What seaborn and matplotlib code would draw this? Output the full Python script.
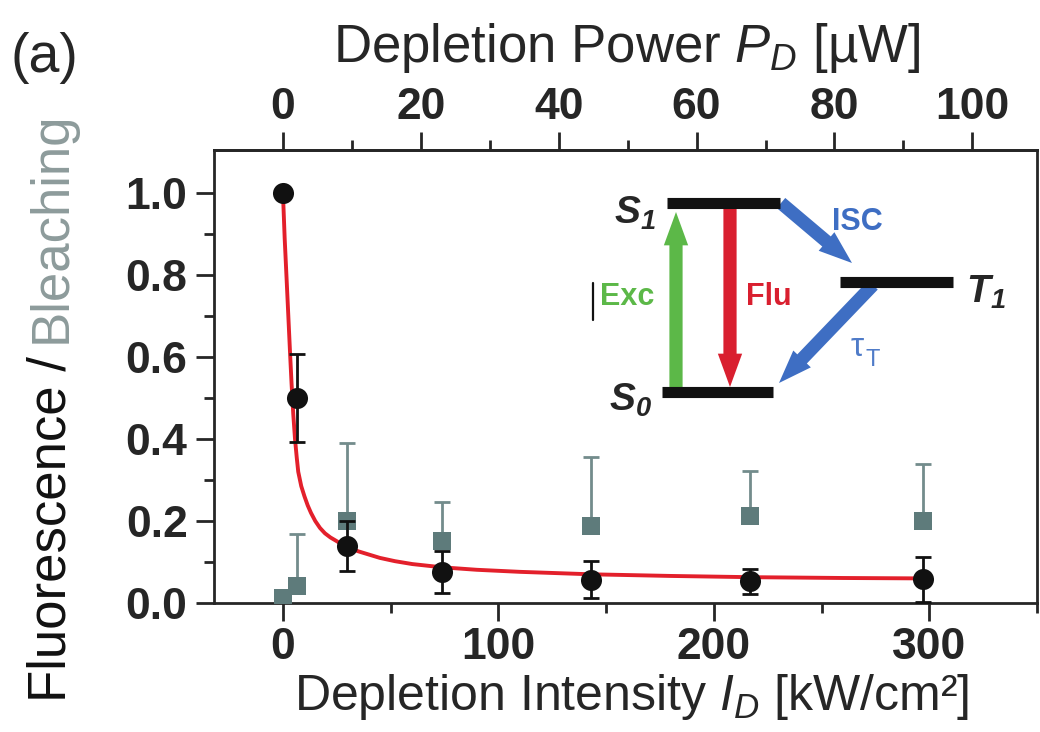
import numpy as np
import matplotlib
matplotlib.use("Agg")
import matplotlib.pyplot as plt
import seaborn as sns
from matplotlib.lines import Line2D
from matplotlib.patches import FancyArrowPatch, ArrowStyle

# data
I_points = [0, 6.4, 29.6, 73.7, 143, 217, 297]          # depletion intensity kW/cm2
fluo = [1.0, 0.50, 0.139, 0.076, 0.057, 0.053, 0.058]
fluo_err = [0, 0.108, 0.061, 0.051, 0.046, 0.031, 0.055]
bleach = [0.012, 0.041, 0.200, 0.151, 0.187, 0.212, 0.200]
bleach_err_up = [0, 0.127, 0.191, 0.095, 0.168, 0.110, 0.139]

# fitted curve, points
fit_I = [0, 0.8, 1.7, 2.5, 3.3, 4.0, 4.8, 5.6, 6.4, 7.1, 8.5, 10, 11.5, 13, 15, 17.2, 19.5,
         22, 24.9, 28, 31, 35, 40, 45, 52, 60, 74, 90, 110, 143, 180, 217, 260, 297]
fit_y = [1.0, 0.89, 0.79, 0.70, 0.61, 0.535, 0.46, 0.40, 0.355, 0.32, 0.285, 0.26, 0.238,
         0.22, 0.2, 0.183, 0.17, 0.16, 0.151, 0.141, 0.134, 0.126, 0.118, 0.11, 0.102,
         0.095, 0.087, 0.081, 0.076, 0.070, 0.066, 0.063, 0.061, 0.060]

power_per_intensity = 1 / 3.2   # uW per kW/cm2

sns.set_style("ticks")
plt.rcParams['font.family'] = ['Liberation Sans', 'DejaVu Sans']
plt.rcParams['mathtext.fontset'] = 'custom'
plt.rcParams['mathtext.rm'] = 'Liberation Sans'
plt.rcParams['mathtext.it'] = 'Liberation Sans:italic'
plt.rcParams['mathtext.bf'] = 'Liberation Sans:bold'
plt.rcParams['mathtext.bfit'] = 'Liberation Sans:bold:italic'

W, H = 1040, 732
fig = plt.figure(figsize=(W / 100, H / 100), dpi=100)
ax = fig.add_axes([214 / W, 1 - 603 / H, (1037 - 214) / W, (603 - 150) / H])

sq_col = '#5e7b7b'
sq_err = '#738c8c'
red = '#e3202b'

# bleaching squares (upper error only)
eb = ax.errorbar(I_points, bleach, yerr=[np.zeros(len(bleach)), bleach_err_up], fmt='none',
                 ecolor=sq_err, elinewidth=2, capsize=6, capthick=2, zorder=2)
eb[1][0].set_visible(False)
sns.scatterplot(x=I_points, y=bleach, marker='s', s=150, color=sq_col, edgecolor=sq_col,
                linewidth=0, ax=ax, zorder=3)

# fit line
sns.lineplot(x=fit_I, y=fit_y, sort=False, estimator=None, color=red, linewidth=2.8,
             ax=ax, zorder=4)

# fluorescence circles
ax.errorbar(I_points, fluo, yerr=fluo_err, fmt='none', ecolor='#111111', elinewidth=2,
            capsize=6, capthick=2, zorder=5)
sns.scatterplot(x=I_points, y=fluo, marker='o', s=230, color='#111111', edgecolor='#111111',
                linewidth=0, ax=ax, zorder=6)

ax.set_xlim(-32, 350)
ax.set_ylim(0, 1.105)
ax.set_xticks([0, 100, 200, 300])
ax.set_xticks([50, 150, 250, 350], minor=True)
ax.set_yticks(np.arange(0, 1.01, 0.2))
ax.set_yticks(np.arange(0.1, 1.1, 0.2), minor=True)
ax.set_yticklabels(['0.0', '0.2', '0.4', '0.6', '0.8', '1.0'])
for s in ax.spines.values():
    s.set_linewidth(2)
    s.set_visible(True)
ax.tick_params(which='major', length=13, width=2, direction='out', labelsize=32, pad=6)
ax.tick_params(which='minor', length=7, width=2, direction='out')
ax.tick_params(axis='x', which='major', pad=4)
for lab in ax.get_xticklabels() + ax.get_yticklabels():
    lab.set_fontweight('bold')

top = ax.secondary_xaxis('top', functions=(lambda i: i * power_per_intensity,
                                           lambda p: p / power_per_intensity))
top.set_xticks([0, 20, 40, 60, 80, 100])
top.set_xticks(np.arange(10, 101, 20), minor=True)
top.spines['top'].set_linewidth(2)
top.tick_params(which='major', length=13, width=2, direction='out', labelsize=32, pad=3)
top.tick_params(which='minor', length=7, width=2, direction='out')
for lab in top.get_xticklabels():
    lab.set_fontweight('bold')

# axis labels
fig.text(632 / W, 1 - 710 / H, 'Depletion Intensity $I_D$ [kW/cm²]', ha='center',
         va='baseline', fontsize=36)
fig.text(627 / W, 1 - 62 / H, 'Depletion Power $P_D$ [µW]', ha='center',
         va='baseline', fontsize=38)
fig.text(10 / W, 1 - 72 / H, '(a)', ha='left', va='baseline', fontsize=40)

t1 = fig.text(52 / W, 1 - 702 / H, 'Fluorescence /', rotation=90, ha='center',
              va='bottom', fontsize=38, color='#111111')
fig.canvas.draw()
bb = t1.get_window_extent().transformed(fig.transFigure.inverted())
fig.text(52 / W, bb.y1 + 13 / H, 'Bleaching', rotation=90, ha='center', va='bottom',
         fontsize=38, color='#8d9b9b')


# energy level inset, positions in reference pixels
def fp(px, py):
    return (px / W, 1 - py / H)


def level(x0, x1, y):
    fig.add_artist(Line2D([x0 / W, x1 / W], [1 - y / H, 1 - y / H], color='#111111',
                          linewidth=8, solid_capstyle='butt', transform=fig.transFigure))


level(667, 780, 203)
level(662, 773, 392)
level(840, 953, 282)


def arrow(p0, p1, col):
    fig.add_artist(FancyArrowPatch(fp(*p0), fp(*p1), transform=fig.transFigure,
                                   arrowstyle=ArrowStyle.Simple(head_length=2.4, head_width=1.75,
                                                                tail_width=0.95),
                                   mutation_scale=10, color=col, linewidth=0,
                                   shrinkA=0, shrinkB=0))


arrow((676, 390), (676, 212), '#5cb848')
arrow((730, 207), (730, 387), '#d91f2f')
arrow((781, 203), (852, 263), '#3e6ec3')
arrow((873, 285), (779, 383), '#3e6ec3')

fig.text(*fp(656, 213), r'$\mathbfit{S}_\mathbfit{1}$', ha='right', va='center', fontsize=28)
fig.text(*fp(652, 400), r'$\mathbfit{S}_\mathbfit{0}$', ha='right', va='center', fontsize=28)
fig.text(*fp(966, 292), r'$\mathbfit{T}_\mathbfit{1}$', ha='left', va='center', fontsize=28)
fig.text(*fp(600, 297), 'Exc', ha='left', va='center', fontsize=22, fontweight='bold',
         color='#5cb848')
fig.text(*fp(746, 297), 'Flu', ha='left', va='center', fontsize=22, fontweight='bold',
         color='#d91f2f')
fig.text(*fp(832, 222), 'ISC', ha='left', va='center', fontsize=22, fontweight='bold',
         color='#3e6ec3')
fig.text(*fp(851, 347), 'τ', ha='left', va='center', fontsize=24, color='#4f7bc8')
fig.text(*fp(866, 360), 'T', ha='left', va='center', fontsize=17, color='#4f7bc8')
fig.add_artist(Line2D([593 / W, 593 / W], [1 - 283 / H, 1 - 320 / H], color='#111111',
                      linewidth=1.6, transform=fig.transFigure))

fig.savefig('out.png', dpi=100)
